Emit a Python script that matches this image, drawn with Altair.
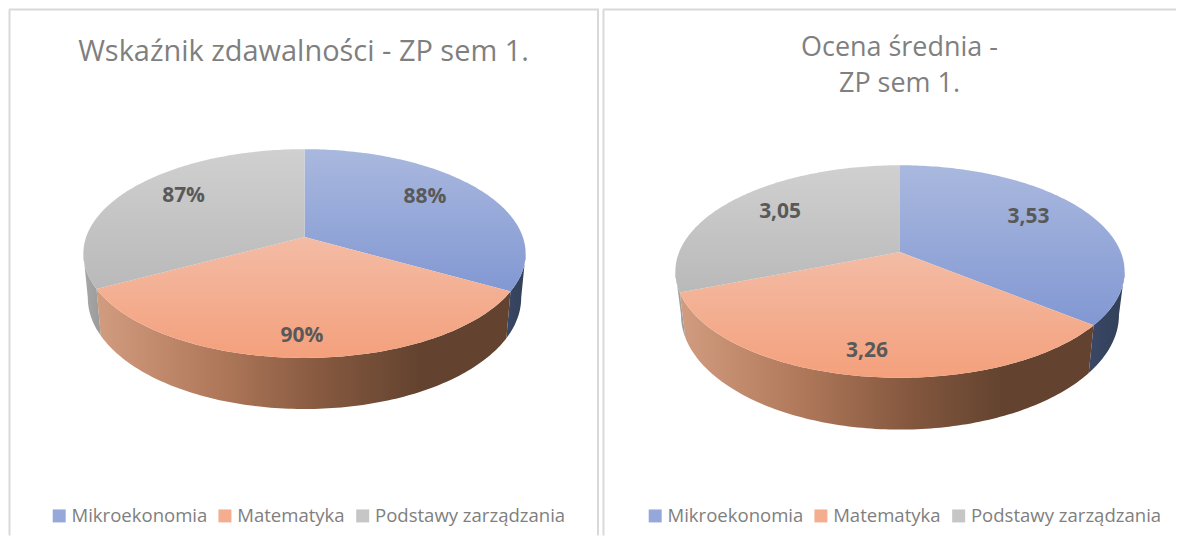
import math
import altair as alt
import pandas as pd

CATEGORIES = ["Mikroekonomia", "Matematyka", "Podstawy zarządzania"]
VALUES_1 = [88, 90, 87]
LABELS_1 = ["88%", "90%", "87%"]
VALUES_2 = [3.53, 3.26, 3.05]
LABELS_2 = ["3,53", "3,26", "3,05"]
TITLE_1 = "Wskaźnik zdawalności - ZP sem 1."
TITLE_2 = ["Ocena średnia -", "ZP sem 1."]
LEGEND_COLORS = ["#96a8d9", "#f5ad8f", "#c6c6c6"]
FONT = "Open Sans"
W1, W2, H = 592, 575, 528


def grad(stops, vertical=True):
    return alt.LinearGradient(
        gradient="linear",
        x1=0, y1=0,
        x2=0 if vertical else 1,
        y2=1 if vertical else 0,
        stops=[alt.GradientStop(offset=o, color=c) for o, c in stops],
    )


TOP = [
    grad([(0, "#a9b8de"), (1, "#8298d3")]),
    grad([(0, "#f3bca5"), (1, "#f4a07c")]),
    grad([(0, "#d0d0d0"), (1, "#b9b9b9")]),
]
WALL = [
    grad([(0, "#3a4766"), (1, "#334059")], vertical=False),
    grad([(0, "#d29c80"), (0.28, "#b27a5c"), (0.55, "#85583f"), (0.78, "#63432f"), (1, "#63432f")], vertical=False),
    grad([(0, "#a8a8a8"), (1, "#9a9a9a")], vertical=False),
]


def panel(values, labels, title, title_size, title_offset, title_dx, rx, cx, cy, ratio, k, sx, sy, drop,
          radial, turn, width, legend_x, legend_pad):
    A = math.sqrt(1 - k * k)
    C = ratio * k

    def top(theta, r=1.0):
        t = math.radians(theta)
        u, v = r * math.sin(t), r * math.cos(t)
        w = 1 + k * v
        return [cx + rx * A * u / w, cy - rx * (ratio * v + C) / w]

    def bottom(theta):
        x, y = top(theta)
        return [cx + sx * (x - cx), cy + sy * (y - cy) + rx * drop]

    def steps(a, b):
        n = max(2, int(abs(b - a)) + 1)
        return [a + (b - a) * i / (n - 1) for i in range(n)]

    def feature(ring):
        return {"type": "Feature", "properties": {},
                "geometry": {"type": "Polygon", "coordinates": [ring + [ring[0]]]}}

    total = sum(values)
    edges = [0]
    for val in values:
        edges.append(edges[-1] + 360 * val / total)
    tangent = math.degrees(math.acos(-k))

    spans = [(max(edges[0], tangent), edges[1]), (edges[1], edges[2]), (edges[2], min(edges[3], 360 - tangent))]
    layers = []
    for (a, b), fill in zip(spans, WALL):
        ring = [top(t) for t in steps(a, b)] + [bottom(t) for t in steps(b, a)]
        layers.append(
            alt.Chart(alt.InlineData(values=[feature(ring)]))
            .mark_geoshape(fill=fill, strokeWidth=0, stroke="transparent")
        )
    for i, fill in enumerate(TOP):
        ring = [top(0, 0)] + [top(t) for t in steps(edges[i], edges[i + 1])]
        layers.append(
            alt.Chart(alt.InlineData(values=[feature(ring)]))
            .mark_geoshape(fill=fill, strokeWidth=0, stroke="transparent")
        )

    rows = []
    for i, lab in enumerate(labels):
        x, y = top((edges[i] + edges[i + 1]) / 2 + turn[i], radial[i])
        rows.append({"lon": x, "lat": y, "label": lab})
    layers.append(
        alt.Chart(pd.DataFrame(rows))
        .mark_text(font=FONT, fontWeight="bold", fontSize=21, color="#595959", baseline="middle")
        .encode(longitude="lon:Q", latitude="lat:Q", text="label:N")
    )

    layers.append(
        alt.Chart(pd.DataFrame({"category": CATEGORIES}))
        .mark_square(size=0, filled=True, opacity=1)
        .encode(
            x=alt.value(0), y=alt.value(0),
            color=alt.Color(
                "category:N",
                scale=alt.Scale(domain=CATEGORIES, range=LEGEND_COLORS),
                legend=alt.Legend(
                    title=None, orient="none", legendX=legend_x, legendY=499,
                    direction="horizontal", columns=3, symbolType="square",
                    symbolSize=169, symbolStrokeWidth=0, symbolOpacity=1, labelFont=FONT,
                    labelFontSize=18.6, labelColor="#7f7f7f", columnPadding=legend_pad,
                    labelOffset=3, labelLimit=300,
                ),
            ),
        )
    )

    frame = pd.DataFrame({"a": [1]})
    rule = dict(color="#d9d9d9", strokeWidth=2)
    layers.append(alt.Chart(frame).mark_rule(**rule).encode(x=alt.value(1.5), y=alt.value(1), y2=alt.value(H)))
    layers.append(alt.Chart(frame).mark_rule(**rule).encode(x=alt.value(1), x2=alt.value(width), y=alt.value(1)))
    if width == W1:
        layers.append(alt.Chart(frame).mark_rule(**rule).encode(x=alt.value(591), y=alt.value(1), y2=alt.value(H)))

    return (
        alt.layer(*layers)
        .project(type="identity", scale=1, translate=[0, 0])
        .properties(
            width=width, height=H,
            title=alt.TitleParams(
                text=title, font=FONT, fontSize=title_size, fontWeight="normal", color="#7f7f7f",
                anchor="middle", frame="group", offset=title_offset, dx=title_dx, lineHeight=36,
            ),
        )
    )


left = panel(VALUES_1, LABELS_1, TITLE_1, 29, -59, 0, 221.5, 297, 245.5, 0.472, 0.158, 0.98, 1.066, 0.2,
             [0.72, 0.84, 0.73], [-5, 0, 5], W1, 42, 8)
right = panel(VALUES_2, LABELS_2, TITLE_2, 27, -90, 10.5, 225, 298.5, 263.5, 0.473, 0.183, 0.975, 1.08, 0.193,
              [0.72, 0.83, 0.72], [-5, 0, 1.5], W2, 44, 8)

chart = (
    alt.hconcat(left, right, spacing=2, padding=0)
    .resolve_scale(color="independent")
    .configure_view(stroke=None)
)
chart.save("out.html", embed_options={"renderer": "svg", "actions": False})
